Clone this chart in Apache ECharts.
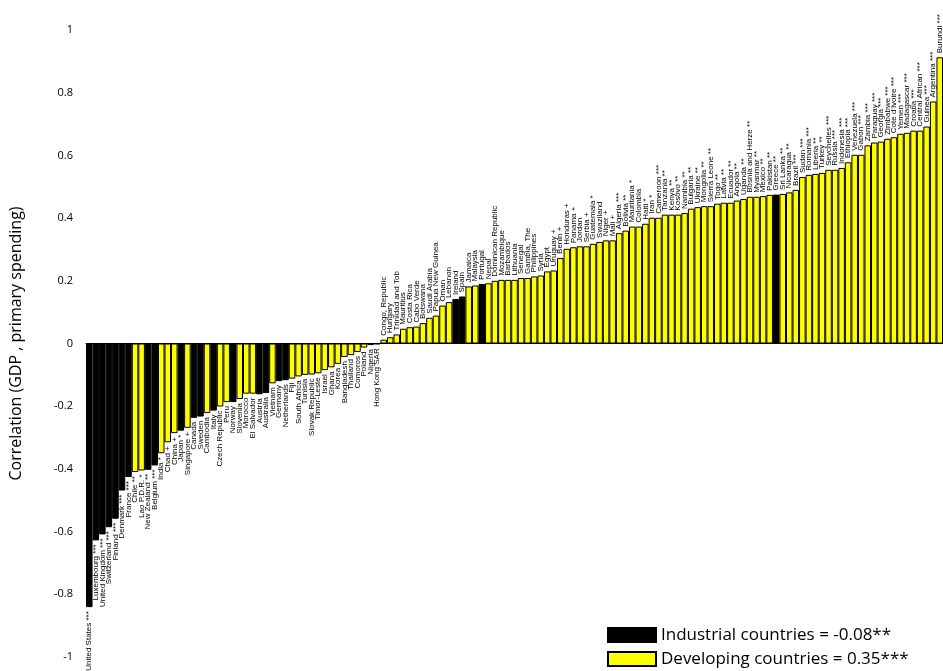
<!DOCTYPE html>
<html>
<head>
<meta charset="utf-8">
<script src="https://cdn.jsdelivr.net/npm/echarts@6/dist/echarts.min.js"></script>
<style>
  html, body { margin: 0; padding: 0; background: #fff; }
  #chart { width: 943px; height: 671px; }
</style>
</head>
<body>
<div id="chart"></div>
<script>
// countries sorted by correlation (GDP, primary spending)
const countries = [
  'United States ***', 'Luxembourg ***', 'United Kingdom ***', 'Switzerland ***', 'Finland ***',
  'Denmark ***', 'France ***', 'Chile **', 'Lao P.D.R. *', 'New Zealand **',
  'Belgium ***', 'India *', 'Chad +', 'China +', 'Japan *',
  'Singapore +', 'Canada', 'Sweden', 'Cambodia', 'Italy',
  'Czech Republic', 'Peru', 'Norway', 'Slovenia', 'Morocco',
  'El Salvador', 'Austria', 'Australia', 'Vietnam', 'Germany',
  'Netherlands', 'Fiji', 'South Africa', 'Tunisia', 'Slovak Republic',
  'Timor-Leste', 'Israel', 'Ghana', 'Korea', 'Bangladesh',
  'Thailand', 'Comoros', 'Poland', 'Nigeria', 'Hong Kong SAR',
  'Congo, Republic', 'Hungary', 'Trinidad and Tob', 'Mauritius', 'Costa Rica',
  'Cabo Verde', 'Botswana', 'Saudi Arabia', 'Papua New Guinea', 'Oman',
  'Lebanon', 'Ireland', 'Spain', 'Jamaica', 'Malaysia',
  'Portugal', 'Nepal', 'Dominican Republic', 'Mozambique', 'Barbados',
  'Lithuania', 'Senegal', 'Gambia, The', 'Philippines', 'Syria',
  'Egypt', 'Uruguay +', 'Benin +', 'Honduras +', 'Panama +',
  'Jordan', 'Serbia +', 'Guatemala *', 'Swaziland', 'Niger +',
  'Mali +', 'Algeria ***', 'Bolivia **', 'Mauritania *', 'Colombia',
  'Haiti *', 'Iran *', 'Cameroon ***', 'Tanzania **', 'Kenya **',
  'Kosovo **', 'Namibia **', 'Bulgaria **', 'Ukraine **', 'Mongolia **',
  'Sierra Leone **', 'Togo **', 'Latvia **', 'Ecuador **', 'Angola **',
  'Uganda **', 'Bosnia and Herze **', 'Myanmar **', 'Mexico **', 'Pakistan **',
  'Greece **', 'Sri Lanka **', 'Nicaragua **', 'Brazil ***', 'Sudan ***',
  'Romania ***', 'Liberia **', 'Turkey **', 'Seychelles ***', 'Russia ***',
  'Indonesia ***', 'Ethiopia ***', 'Venezuela ***', 'Gabon ***', 'Zambia ***',
  'Paraguay ***', 'Georgia ***', 'Zimbabwe ***', "Cote d'Ivoire ***", 'Yemen ***',
  'Madagascar ***', 'Croatia ***', 'Central African ***', 'Guinea ***', 'Argentina ***',
  'Burundi ***'
];

const correlations = [
  -0.841, -0.628, -0.609, -0.586, -0.559,
  -0.469, -0.426, -0.410, -0.405, -0.403,
  -0.389, -0.350, -0.315, -0.286, -0.278,
  -0.269, -0.237, -0.233, -0.222, -0.214,
  -0.201, -0.187, -0.187, -0.177, -0.160,
  -0.160, -0.162, -0.158, -0.127, -0.120,
  -0.117, -0.112, -0.105, -0.100, -0.099,
  -0.095, -0.085, -0.076, -0.065, -0.043,
  -0.037, -0.027, -0.013, -0.005, -0.002,
  0.012, 0.020, 0.029, 0.047, 0.052,
  0.054, 0.065, 0.082, 0.089, 0.121,
  0.132, 0.142, 0.150, 0.182, 0.185,
  0.190, 0.192, 0.200, 0.203, 0.203,
  0.203, 0.209, 0.209, 0.214, 0.217,
  0.230, 0.233, 0.273, 0.302, 0.307,
  0.310, 0.310, 0.318, 0.324, 0.329,
  0.329, 0.352, 0.360, 0.373, 0.373,
  0.382, 0.401, 0.401, 0.411, 0.411,
  0.411, 0.416, 0.430, 0.435, 0.438,
  0.438, 0.446, 0.449, 0.449, 0.456,
  0.461, 0.468, 0.468, 0.470, 0.474,
  0.475, 0.477, 0.482, 0.490, 0.531,
  0.538, 0.541, 0.544, 0.554, 0.554,
  0.560, 0.578, 0.602, 0.602, 0.632,
  0.641, 0.644, 0.653, 0.658, 0.669,
  0.672, 0.679, 0.679, 0.692, 0.772,
  0.913
];

const industrialCountries = [
  'United States ***', 'Luxembourg ***', 'United Kingdom ***', 'Switzerland ***', 'Finland ***',
  'Denmark ***', 'France ***', 'New Zealand **', 'Belgium ***', 'Japan *',
  'Canada', 'Sweden', 'Italy', 'Norway', 'Austria', 'Australia',
  'Germany', 'Netherlands', 'Ireland', 'Spain', 'Portugal', 'Greece **'
];

const seriesNames = ['Industrial countries = -0.08**', 'Developing countries = 0.35***'];

const LABEL_FONT = "'Liberation Sans Narrow', 'Liberation Sans', sans-serif";
const TEXT_FONT = "'Open Sans', 'Liberation Sans', sans-serif";

function groupData(industrial) {
  return correlations.map((v, i) => {
    const isInd = industrialCountries.includes(countries[i]);
    if (isInd !== industrial) return '-';
    return {
      value: v,
      label: v >= 0
        ? { position: 'top', align: 'left' }
        : { position: 'bottom', align: 'right' }
    };
  });
}

const barLabel = {
  show: true,
  formatter: '{b}',
  rotate: 90,
  verticalAlign: 'middle',
  distance: 4,
  fontSize: 8,
  fontFamily: LABEL_FONT,
  color: '#000'
};

const chart = echarts.init(document.getElementById('chart'));

chart.setOption({
  animation: false,
  backgroundColor: '#fff',
  title: {
    text: 'Correlation between GDP and primary spending',
    left: 545,
    textAlign: 'right',
    top: -27,
    padding: 0,
    textStyle: { fontSize: 24, fontWeight: 'bold', fontFamily: TEXT_FONT, color: '#000' }
  },
  grid: { left: 82, top: 30, width: 862, bottom: 14 },
  legend: {
    data: seriesNames,
    orient: 'vertical',
    left: 607,
    top: 626,
    padding: 0,
    itemWidth: 48,
    itemHeight: 14,
    itemGap: 6,
    icon: 'rect',
    textStyle: { fontSize: 17, lineHeight: 18, fontFamily: TEXT_FONT, color: '#000' }
  },
  xAxis: {
    type: 'category',
    data: countries,
    axisLine: { lineStyle: { color: '#000', width: 1 } },
    axisTick: { show: false },
    axisLabel: { show: false },
    splitLine: { show: false }
  },
  yAxis: {
    type: 'value',
    min: -1,
    max: 1,
    interval: 0.2,
    name: 'Correlation (GDP , primary spending)',
    nameLocation: 'middle',
    nameRotate: 90,
    nameGap: 62,
    nameTextStyle: { fontSize: 16, fontFamily: TEXT_FONT, color: '#000' },
    axisLine: { show: false },
    axisTick: { show: false },
    splitLine: { show: false },
    axisLabel: { fontSize: 11, fontFamily: TEXT_FONT, color: '#000', margin: 13 }
  },
  series: [
    {
      name: seriesNames[0],
      type: 'bar',
      data: groupData(true),
      barGap: '-100%',
      barCategoryGap: '0%',
      itemStyle: { color: '#000', borderColor: '#000', borderWidth: 1 },
      label: barLabel
    },
    {
      name: seriesNames[1],
      type: 'bar',
      data: groupData(false),
      barGap: '-100%',
      barCategoryGap: '0%',
      itemStyle: { color: '#ffff00', borderColor: '#000', borderWidth: 1 },
      label: barLabel
    }
  ]
});
</script>
</body>
</html>
